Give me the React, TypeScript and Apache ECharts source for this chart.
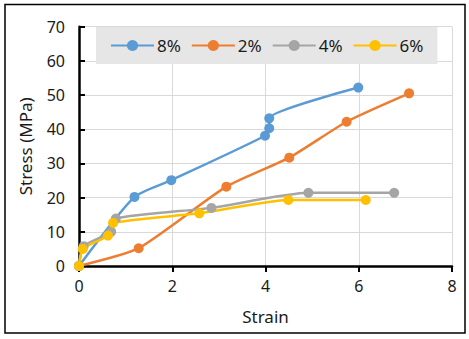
import React, { useEffect, useRef } from "react";
import * as echarts from "echarts";

const seriesNames = ["8%", "2%", "4%", "6%"];
const colors = ["#5B9BD5", "#ED7D31", "#A5A5A5", "#FFC000"];

const strain8 = [0, 1.19, 1.98, 3.99, 4.08, 4.08, 5.99];
const stress8 = [0, 20.2, 25.1, 38.1, 40.3, 43.2, 52.2];

const strain2 = [0, 1.28, 3.16, 4.51, 5.74, 7.08];
const stress2 = [0, 5.2, 23.2, 31.7, 42.2, 50.5];

const strain4 = [0, 0.1, 0.69, 0.79, 2.84, 4.92, 6.76];
const stress4 = [0, 5.8, 10.0, 13.9, 17.0, 21.4, 21.4];

const strain6 = [0, 0.08, 0.62, 0.73, 2.58, 4.49, 6.15];
const stress6 = [0, 5.0, 8.9, 12.6, 15.4, 19.3, 19.3];

const xTicks = { min: 0, max: 8, interval: 2 };
const yTicks = { min: 0, max: 70, interval: 10 };

const pairs = (xs: number[], ys: number[]) => xs.map((x, i) => [x, ys[i]]);

export default function App() {
  const ref = useRef<HTMLDivElement>(null);
  useEffect(() => {
    const chart = echarts.init(ref.current!, null, { renderer: "svg" });
    const font = "Noto Sans";
    const data = [
      pairs(strain8, stress8),
      pairs(strain2, stress2),
      pairs(strain4, stress4),
      pairs(strain6, stress6),
    ];
    chart.setOption({
      animation: false,
      backgroundColor: "#ffffff",
      textStyle: { fontFamily: font },
      graphic: [
        {
          type: "rect",
          shape: { x: 5, y: 4.5, width: 460, height: 328.5 },
          style: { fill: "none", stroke: "#000", lineWidth: 1.5 },
          silent: true,
        },
      ],
      grid: { left: 79, right: 17, top: 26.7, bottom: 73 },
      legend: {
        data: seriesNames,
        left: 96,
        top: 27,
        padding: [10, 14, 10, 14],
        itemGap: 10,
        itemWidth: 43,
        itemHeight: 14,
        backgroundColor: "#e6e6e6",
        textStyle: { fontFamily: font, fontSize: 17, color: "#1a1a1a", padding: [0, 0, 0, -2] },
      },
      xAxis: {
        type: "value",
        min: xTicks.min,
        max: xTicks.max,
        interval: xTicks.interval,
        name: "Strain",
        nameLocation: "middle",
        nameGap: 42,
        nameTextStyle: { fontFamily: font, fontSize: 17, color: "#1a1a1a" },
        axisLine: { show: true, onZero: false, lineStyle: { color: "#000", width: 2.5 } },
        axisTick: { show: true, inside: false, length: 6, lineStyle: { color: "#000", width: 2 } },
        axisLabel: { fontFamily: font, fontSize: 16, color: "#1a1a1a", margin: 12 },
        splitLine: { show: true, lineStyle: { color: "#d9d9d9", width: 1 } },
      },
      yAxis: {
        type: "value",
        min: yTicks.min,
        max: yTicks.max,
        interval: yTicks.interval,
        name: "Stress (MPa)",
        nameLocation: "middle",
        nameGap: 45,
        nameTextStyle: { fontFamily: font, fontSize: 17, color: "#1a1a1a" },
        axisLine: { show: true, lineStyle: { color: "#000", width: 2.5 } },
        axisTick: { show: true, inside: true, length: 6, lineStyle: { color: "#000", width: 2 } },
        axisLabel: { fontFamily: font, fontSize: 16, color: "#1a1a1a", margin: 14 },
        splitLine: { show: true, lineStyle: { color: "#d9d9d9", width: 1 } },
      },
      series: seriesNames.map((name, i) => ({
        name,
        type: "line",
        data: data[i],
        smooth: 0.2,
        symbol: "circle",
        symbolSize: 10,
        color: colors[i],
        lineStyle: { width: 2.5, color: colors[i] },
        itemStyle: { color: colors[i] },
      })),
    });
    return () => chart.dispose();
  }, []);
  return (
    <div
      ref={ref}
      style={{ position: "fixed", left: 0, top: 0, width: 469, height: 339 }}
    />
  );
}
